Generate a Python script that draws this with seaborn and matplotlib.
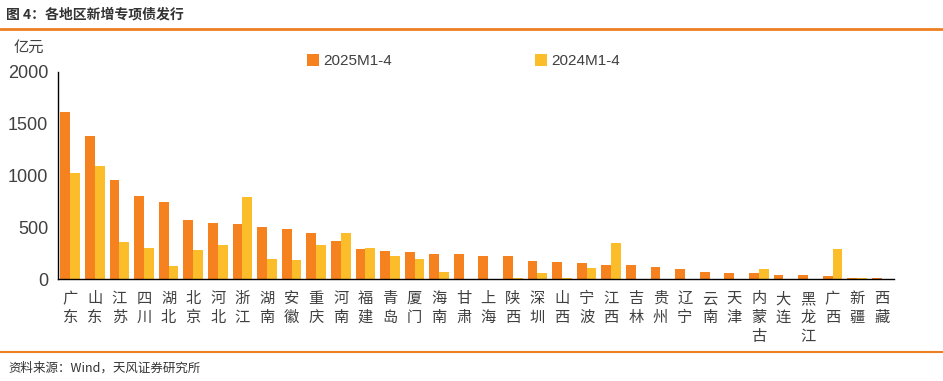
import numpy as np
import pandas as pd
import matplotlib
matplotlib.use("Agg")
import matplotlib.pyplot as plt
from matplotlib.lines import Line2D
import seaborn as sns

# ----------------------------
# Data (亿元)
# ----------------------------
regions = ["广东", "山东", "江苏", "四川", "湖北", "北京", "河北", "浙江", "湖南", "安徽",
           "重庆", "河南", "福建", "青岛", "厦门", "海南", "甘肃", "上海", "陕西", "深圳",
           "山西", "宁波", "江西", "吉林", "贵州", "辽宁", "云南", "天津", "内蒙古", "大连",
           "黑龙江", "广西", "新疆", "西藏"]
tick_labels = ["广\n东", "山\n东", "江\n苏", "四\n川", "湖\n北", "北\n京", "河\n北", "浙\n江",
               "湖\n南", "安\n徽", "重\n庆", "河\n南", "福\n建", "青\n岛", "厦\n门", "海\n南",
               "甘\n肃", "上\n海", "陕\n西", "深\n圳", "山\n西", "宁\n波", "江\n西", "吉\n林",
               "贵\n州", "辽\n宁", "云\n南", "天\n津", "内\n蒙\n古", "大\n连", "黑\n龙\n江",
               "广\n西", "新\n疆", "西\n藏"]
v2025 = [1616, 1381, 955, 800, 745, 571, 542, 532, 503, 481,
         445, 365, 290, 268, 265, 245, 242, 223, 223, 174,
         165, 152, 135, 135, 116, 97, 65, 58, 58, 35,
         35, 26, 13, 10]
v2024 = [1026, 1090, 358, 300, 123, 281, 332, 794, 197, 184,
         329, 445, 300, 223, 197, 71, 0, 0, 13, 55,
         10, 106, 352, 0, 0, 0, 0, 0, 94, 0,
         0, 287, 13, 0]
series_names = ["2025M1-4", "2024M1-4"]
colors = ["#F5821F", "#FCBD2B"]

df = pd.DataFrame({
    "region": regions * 2,
    "period": [series_names[0]] * len(regions) + [series_names[1]] * len(regions),
    "value": v2025 + v2024,
})

# ----------------------------
# Style
# ----------------------------
sns.set_style("white")
plt.rcParams["font.family"] = ["Noto Sans CJK SC", "DejaVu Sans"]
TXT = "#404040"
LATIN = ["Liberation Sans", "DejaVu Sans"]

fig = plt.figure(figsize=(9.43, 3.81), dpi=100)
ax = fig.add_axes([58 / 943, 1 - 279 / 381, (894 - 58) / 943, (279 - 72) / 381])

sns.barplot(data=df, x="region", y="value", hue="period", order=regions,
            hue_order=series_names, palette=colors, width=0.8, gap=0,
            saturation=1, linewidth=0, legend=False, ax=ax)

ax.set_xlim(-0.5, len(regions) - 0.5)
ax.set_ylim(0, 2000)
ax.set_yticks([0, 500, 1000, 1500, 2000])
ax.set_yticklabels(["0", "500", "1000", "1500", "2000"], family=LATIN)
ax.set_xlabel("")
ax.set_ylabel("")
ax.set_xticks(range(len(regions)))
ax.set_xticklabels(tick_labels, fontsize=11, color=TXT, linespacing=1.15, va="top")
ax.set_xticks(np.arange(-0.5, len(regions), 1), minor=True)
ax.tick_params(axis="x", which="major", length=0, pad=8)
ax.tick_params(axis="x", which="minor", length=5, width=1, color="black", direction="out")
ax.tick_params(axis="y", length=4, width=1, color="black", direction="out",
               labelsize=13, labelcolor=TXT, pad=3)
for s in ["top", "right"]:
    ax.spines[s].set_visible(False)
for s in ["left", "bottom"]:
    ax.spines[s].set_color("black")
    ax.spines[s].set_linewidth(1)

# legend
handles = [Line2D([], [], marker="s", linestyle="none", markersize=9,
                  markerfacecolor=c, markeredgewidth=0) for c in colors]
fig.legend(handles, series_names, loc="center left",
           bbox_to_anchor=(302 / 943, 1 - 61 / 381), ncol=2, frameon=False,
           prop={"family": LATIN, "size": 11}, labelcolor=TXT, handlelength=0.7,
           handletextpad=0.3, columnspacing=9.4, borderaxespad=0)

# unit, title, source
fig.text(14 / 943, 1 - 47 / 381, "亿元", fontsize=11, color=TXT, va="center")
fig.text(6 / 943, 1 - 14 / 381, "图 4：各地区新增专项债发行", fontsize=10,
         fontweight="bold", color="#333333", va="center")
fig.text(8 / 943, 1 - 368 / 381, "资料来源：Wind，天风证券研究所", fontsize=9,
         color="#333333", va="center")
fig.add_artist(Line2D([0, 1], [1 - 29 / 381] * 2, color="#EE7F21", linewidth=2,
                      transform=fig.transFigure))
fig.add_artist(Line2D([0, 1], [1 - 352 / 381] * 2, color="#EE7F21", linewidth=1.5,
                      transform=fig.transFigure))

fig.savefig("out.png", dpi=100)
